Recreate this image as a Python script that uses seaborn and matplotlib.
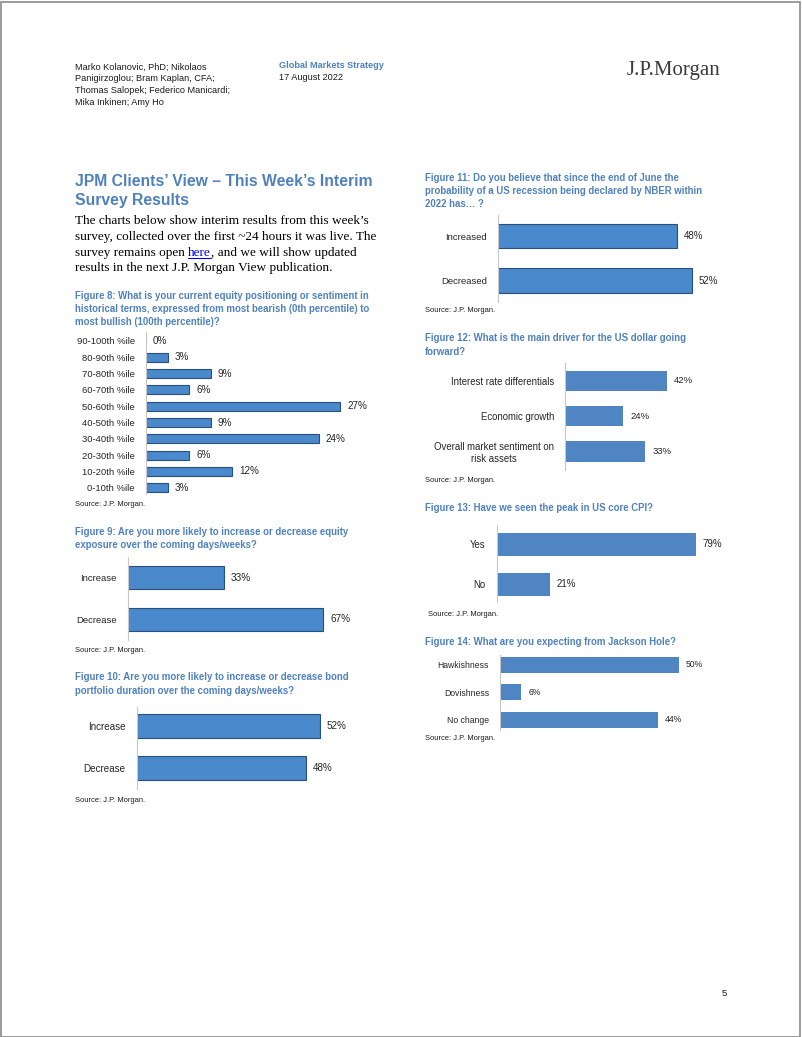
import pandas as pd
import numpy as np
import seaborn as sns
import matplotlib.pyplot as plt
from matplotlib.patches import Rectangle
from matplotlib.lines import Line2D

# survey data
fig8_cats = ['90-100th %ile', '80-90th %ile', '70-80th %ile', '60-70th %ile', '50-60th %ile',
             '40-50th %ile', '30-40th %ile', '20-30th %ile', '10-20th %ile', '0-10th %ile']
fig8_vals = [0, 3, 9, 6, 27, 9, 24, 6, 12, 3]
fig9_cats = ['Increase', 'Decrease']
fig9_vals = [33, 67]
fig10_cats = ['Increase', 'Decrease']
fig10_vals = [52, 48]
fig11_cats = ['Increased', 'Decreased']
fig11_vals = [48, 52]
fig12_cats = ['Interest rate differentials', 'Economic growth', 'Overall market sentiment on\nrisk assets']
fig12_vals = [42, 24, 33]
fig13_cats = ['Yes', 'No']
fig13_vals = [79, 21]
fig14_cats = ['Hawkishness', 'Dovishness', 'No change']
fig14_vals = [50, 6, 44]

sns.set_style('white')
plt.rcParams['font.family'] = ['Liberation Sans', 'DejaVu Sans']

W, H = 802, 1037
fig = plt.figure(figsize=(W / 100, H / 100), dpi=100)

BLUE = '#4f81bd'
BAR3D = '#4a89cb'
BARFLAT = '#4e85c2'


def ftext(x, y, s, **kw):
    return fig.text(x / W, 1 - y / H, s, **kw)


def panel(cats, vals, left, top, bottom, first, last, pxper, height, color, edge, tsize, vsize):
    n = len(cats)
    step = (last - first) / (n - 1)
    xmax = max(vals) * 1.3
    ax = fig.add_axes([left / W, 1 - bottom / H, xmax * pxper / W, (bottom - top) / H])
    ax.patch.set_visible(False)
    df = pd.DataFrame({'cat': cats, 'val': vals})
    sns.barplot(data=df, x='val', y='cat', orient='h', color=color, saturation=1,
                width=height, edgecolor=edge, linewidth=0.8 if edge != 'none' else 0, ax=ax)
    ax.set_xlim(0, xmax)
    ax.set_ylim(n - 1 + (bottom - last) / step, -(first - top) / step)
    ax.bar_label(ax.containers[0], labels=[f'{v}%' for v in vals], padding=5,
                 fontsize=vsize, color='#262626')
    ax.set_xlabel('')
    ax.set_ylabel('')
    ax.set_xticks([])
    ax.tick_params(axis='y', length=0, pad=8, labelsize=tsize, labelcolor='#262626')
    for lab in ax.get_yticklabels():
        lab.set_multialignment('center')
    for s in ['top', 'right', 'bottom']:
        ax.spines[s].set_visible(False)
    ax.spines['left'].set_color('#c8c8c8')
    ax.spines['left'].set_linewidth(0.8)
    return ax


# page frame
fig.add_artist(Rectangle((0.5 / W, 0.5 / H), 1 - 2.5 / W, 1 - 2 / H, transform=fig.transFigure,
                         fill=False, edgecolor='#8a8a8a', linewidth=1.2))

# header
authors = ['Marko Kolanovic, PhD; Nikolaos', 'Panigirzoglou; Bram Kaplan, CFA;',
           'Thomas Salopek; Federico Manicardi;', 'Mika Inkinen; Amy Ho']
for i, line in enumerate(authors):
    ftext(75, 67 + 11.7 * i, line, fontsize=6.6, va='center', color='#1a1a1a')
ftext(279, 66, 'Global Markets Strategy', fontsize=6.6, fontweight='bold', color=BLUE, va='center')
ftext(279, 78, '17 August 2022', fontsize=6.6, va='center', color='#1a1a1a')
ftext(720, 71, 'J.P.Morgan', fontsize=15, family='Liberation Serif', ha='right', va='center',
      color='#3b3b3b')

# section title and body
ftext(75, 181, 'JPM Clients\u2019 View \u2013 This Week\u2019s Interim', fontsize=11.3,
      fontweight='bold', color=BLUE, va='center')
ftext(75, 200, 'Survey Results', fontsize=11.3, fontweight='bold', color=BLUE, va='center')

body_kw = dict(fontsize=9.5, family='Liberation Serif', va='baseline', color='black')
ftext(75, 224, 'The charts below show interim results from this week\u2019s', **body_kw)
ftext(75, 240, 'survey, collected over the first ~24 hours it was live. The', **body_kw)
ftext(75, 271, 'results in the next J.P. Morgan View publication.', **body_kw)

renderer = fig.canvas.get_renderer()
t_pre = ftext(75, 256, 'survey remains open', **body_kw)
w_pre = t_pre.get_window_extent(renderer).width
t_a = ftext(0, 0, 'n n', **body_kw)
t_b = ftext(0, 0, 'nn', **body_kw)
w_sp = t_a.get_window_extent(renderer).width - t_b.get_window_extent(renderer).width
t_a.remove()
t_b.remove()
x_here = 75 + w_pre + w_sp
t_here = ftext(x_here, 256, 'here', color='#0000ee', **{k: v for k, v in body_kw.items() if k != 'color'})
w_here = t_here.get_window_extent(renderer).width
fig.add_artist(Line2D([x_here / W, (x_here + w_here) / W], [1 - 257.5 / H, 1 - 257.5 / H],
                      transform=fig.transFigure, color='#0000ee', linewidth=0.8))
ftext(x_here + w_here, 256, ', and we will show updated', **body_kw)

cap_kw = dict(fontsize=6.9, fontweight='bold', color=BLUE, va='center')
src_kw = dict(fontsize=5.4, va='center', color='#1a1a1a')

# Figure 8
for i, line in enumerate(['Figure 8: What is your current equity positioning or sentiment in',
                          'historical terms, expressed from most bearish (0th percentile) to',
                          'most bullish (100th percentile)?']):
    ftext(75, 296 + 13 * i, line, **cap_kw)
panel(fig8_cats, fig8_vals, 146, 332, 494, 341, 487.7, 7.19, 0.55, BAR3D, '#2a4f7c', 6.8, 7.1)
ftext(75, 504, 'Source: J.P. Morgan.', **src_kw)

# Figure 9
ftext(75, 532, 'Figure 9: Are you more likely to increase or decrease equity', **cap_kw)
ftext(75, 545, 'exposure over the coming days/weeks?', **cap_kw)
panel(fig9_cats, fig9_vals, 127.7, 557, 640, 577.7, 619.3, 2.92, 0.56, BAR3D, '#2a4f7c', 6.8, 7.2)
ftext(75, 650, 'Source: J.P. Morgan.', **src_kw)

# Figure 10
ftext(75, 677, 'Figure 10: Are you more likely to increase or decrease bond', **cap_kw)
ftext(75, 691, 'portfolio duration over the coming days/weeks?', **cap_kw)
panel(fig10_cats, fig10_vals, 136.7, 707, 789, 726, 768, 3.52, 0.57, BAR3D, '#2a4f7c', 7.1, 7.1)
ftext(75, 800, 'Source: J.P. Morgan.', **src_kw)

# Figure 11
for i, line in enumerate(['Figure 11: Do you believe that since the end of June the',
                          'probability of a US recession being declared by NBER within',
                          '2022 has\u2026 ?']):
    ftext(425, 178 + 13 * i, line, **cap_kw)
panel(fig11_cats, fig11_vals, 498.3, 215, 301.7, 236, 280.5, 3.72, 0.55, BAR3D, '#2a4f7c', 6.8, 7.0)
ftext(425, 310, 'Source: J.P. Morgan.', **src_kw)

# Figure 12
ftext(425, 338, 'Figure 12: What is the main driver for the US dollar going', **cap_kw)
ftext(425, 352, 'forward?', **cap_kw)
panel(fig12_cats, fig12_vals, 565, 363, 470, 380.7, 451.5, 2.43, 0.565, BARFLAT, 'none', 6.9, 6.8)
ftext(425, 480, 'Source: J.P. Morgan.', **src_kw)

# Figure 13
ftext(425, 508, 'Figure 13: Have we seen the peak in US core CPI?', **cap_kw)
panel(fig13_cats, fig13_vals, 496.7, 525, 601.7, 544.3, 584.2, 2.52, 0.58, BARFLAT, 'none', 6.9, 7.0)
ftext(428, 615, 'Source: J.P. Morgan.', **src_kw)

# Figure 14
ftext(425, 642, 'Figure 14: What are you expecting from Jackson Hole?', **cap_kw)
panel(fig14_cats, fig14_vals, 500, 655, 730, 664.7, 719.7, 3.58, 0.58, BARFLAT, 'none', 6.2, 6.2)
ftext(425, 739, 'Source: J.P. Morgan.', **src_kw)

# page number
ftext(724, 993, '5', fontsize=6.8, ha='center', va='center', color='#1a1a1a')

fig.savefig('out.png', dpi=100)
